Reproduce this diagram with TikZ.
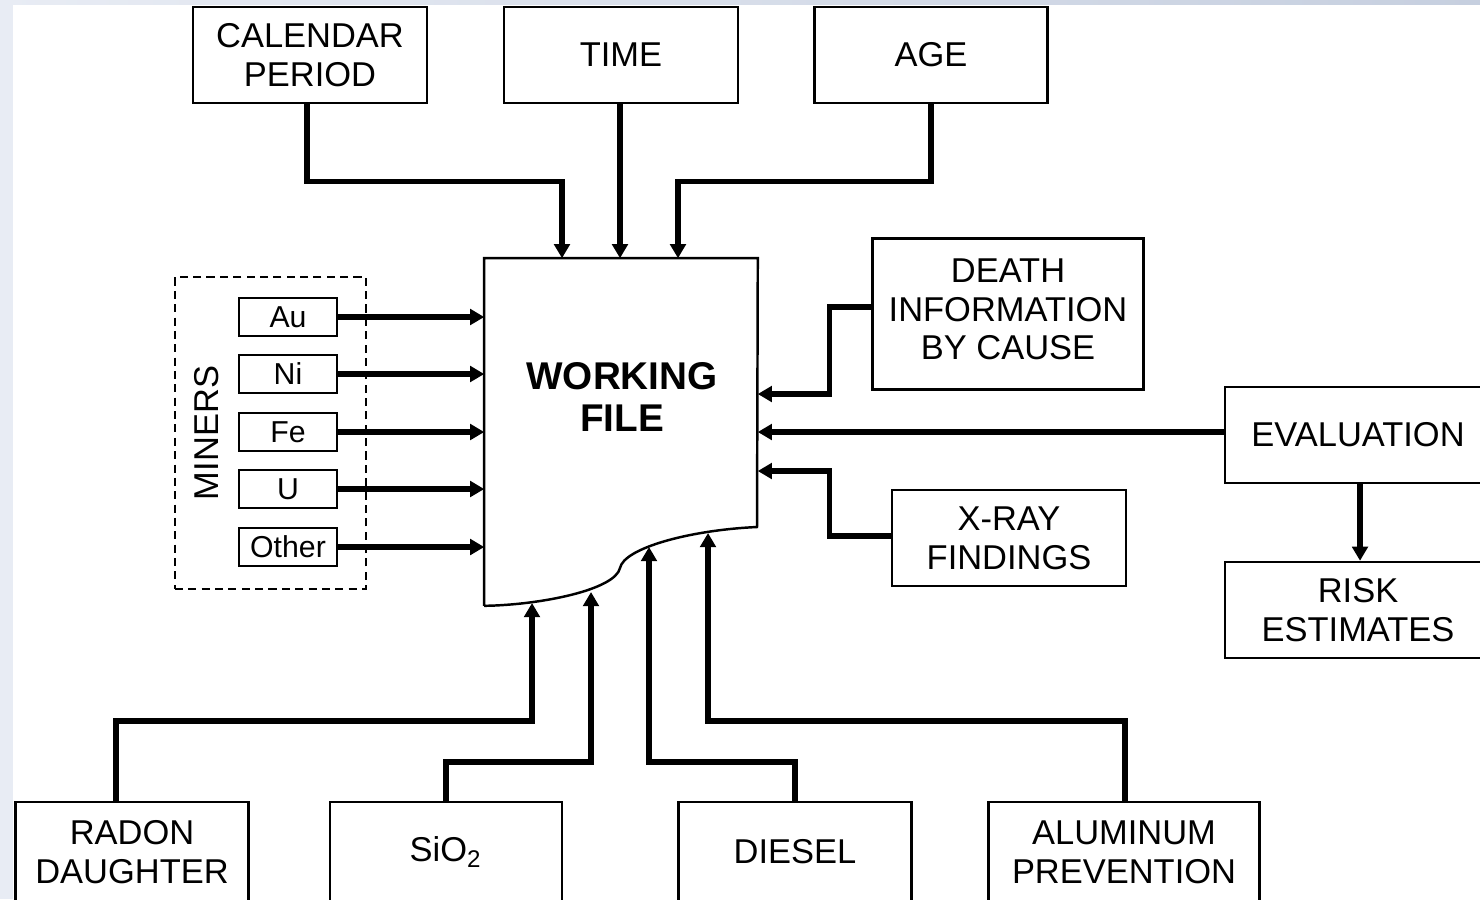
\documentclass[tikz,border=0pt]{standalone}
\usepackage{fontspec}
\setmainfont{Liberation Sans}
\usetikzlibrary{arrows.meta}

\definecolor{bgblue}{HTML}{E8ECF4}
\definecolor{bgtop}{HTML}{C6CFDF}

\begin{document}
\begin{tikzpicture}[x=0.01cm, y=-0.01cm,
    box/.style={draw, line width=0.7pt, align=center, inner sep=0pt, font=\fontsize{9.8}{11}\selectfont},
    tag/.style={draw, line width=0.6pt, inner sep=0pt, minimum width=0.98cm, minimum height=0.38cm, font=\fontsize{8.6}{10}\selectfont},
    conn/.style={line width=1.45pt, -{Triangle[length=4pt,width=4.4pt]}}]
    % Background
    \useasboundingbox (0,0) rectangle (1480,899);
    \clip (0,0) rectangle (1480,899);
    \fill[bgblue] (0,0) rectangle (1480,899);
    \shade[left color=bgblue, right color=bgtop] (0,0) rectangle (1480,5);
    \fill[white] (13,5) rectangle (1480,899);

    % Draw nodes
    \node[box, minimum width=2.34cm, minimum height=0.96cm] (cal) at (310,55) {CALENDAR\\PERIOD};
    \node[box, minimum width=2.34cm, minimum height=0.96cm] (time) at (621,55) {TIME};
    \node[box, minimum width=2.33cm, minimum height=0.96cm] (age) at (931,55) {AGE};
    \node[box, minimum width=2.71cm, minimum height=1.51cm] (death) at (1008,314) {DEATH\\INFORMATION\\BY CAUSE\\[-0.29cm]};
    \node[box, minimum width=2.66cm, minimum height=0.96cm] (eval) at (1358,435) {EVALUATION};
    \node[box, minimum width=2.66cm, minimum height=0.96cm] (risk) at (1358,610) {RISK\\ESTIMATES};
    \node[box, minimum width=2.34cm, minimum height=0.96cm] (xray) at (1009,538) {X-RAY\\FINDINGS};
    \node[box, minimum width=2.33cm, minimum height=1.0cm] (radon) at (132,852) {RADON\\DAUGHTER};
    \node[box, minimum width=2.32cm, minimum height=1.0cm] (sio) at (446,852) {SiO\textsubscript{2}};
    \node[box, minimum width=2.33cm, minimum height=1.0cm] (diesel) at (795,852) {DIESEL};
    \node[box, minimum width=2.71cm, minimum height=1.0cm] (alu) at (1124,852) {ALUMINUM\\PREVENTION};

    % Working file
    \node[minimum width=2.72cm, minimum height=3.46cm, inner sep=0pt] (wf) at (621,432) {};
    \draw[line width=0.7pt] (wf.south west) -- (wf.north west) -- (wf.north east) -- (757,527)
        .. controls (690,530) and (624,548) .. (620,568)
        .. controls (615,590) and (540,605) .. (wf.south west);
    \node[align=center, font=\bfseries\fontsize{11}{12.2}\selectfont] (wftext) at (622,397) {WORKING\\FILE};
    \coordinate (w1) at (532,603);
    \coordinate (w2) at (591,592);
    \coordinate (w3) at (649,547);
    \coordinate (w4) at (708,533);

    % Miners
    \node[draw, line width=0.45pt, dash pattern=on 2.3pt off 1.5pt, minimum width=1.91cm, minimum height=3.12cm] (miners) at (270.5,433) {};
    \node[rotate=90, font=\fontsize{9.8}{11}\selectfont] (minerslabel) at (207,433) {MINERS};
    \node[tag] (au) at (288,317) {Au};
    \node[tag] (ni) at (288,374) {Ni};
    \node[tag] (fe) at (288,432) {Fe};
    \node[tag] (u) at (288,489) {U};
    \node[tag] (other) at (288,547) {Other};

    % Draw connections
    \draw[conn] (cal.south -| 307,0) -- ++(0,77) -| (wf.north -| 562,0);
    \draw[conn] (time.south -| 620,0) -- (wf.north -| 620,0);
    \draw[conn] (age.south -| 931,0) -- ++(0,77) -| (wf.north -| 678,0);
    \foreach \m in {au,ni,fe,u,other}
        \draw[conn] (\m.east) -- (wf.west |- \m.east);
    \draw[conn] (death.west |- 0,307) -- ++(-42,0) |- (wf.east |- 0,394);
    \draw[conn] (eval.west |- 0,432) -- (wf.east |- 0,432);
    \draw[conn] (xray.west |- 0,536) -- ++(-61,0) |- (wf.east |- 0,471);
    \draw[conn] (eval.south -| 1360,0) -- (risk.north -| 1360,0);
    \draw[conn] (radon.north -| 116,0) |- (w1 |- 0,721) -- (w1);
    \draw[conn] (sio.north -| 446,0) |- (w2 |- 0,762) -- (w2);
    \draw[conn] (diesel.north -| 795,0) |- (w3 |- 0,762) -- (w3);
    \draw[conn] (alu.north -| 1125,0) |- (w4 |- 0,721) -- (w4);
\end{tikzpicture}
\end{document}
